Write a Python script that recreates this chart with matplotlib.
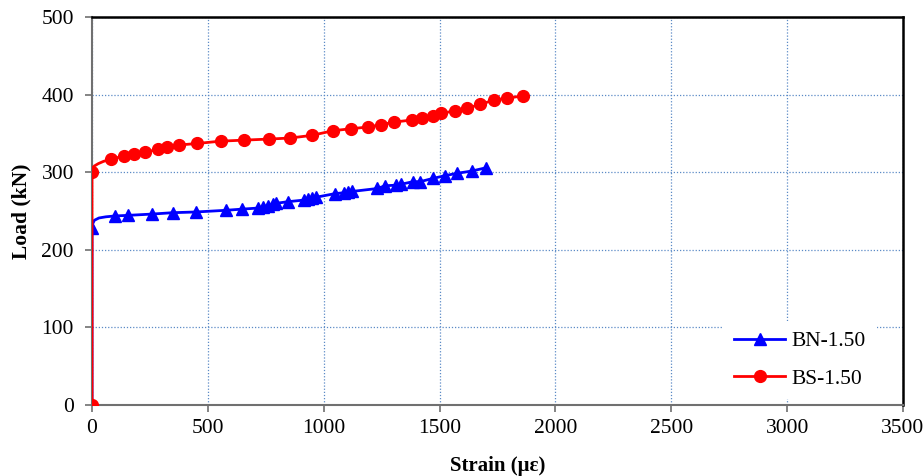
import numpy as np
import matplotlib.pyplot as plt
from matplotlib.lines import Line2D

# --- DATA ---
# BN-1.50 : strain [micro-strain], load [kN]
bn_strain = [0, 0, 99, 157, 258, 348, 447, 578, 648, 718, 738, 758, 780, 795,
             846, 913, 931, 950, 967, 1049, 1087, 1106, 1123, 1232, 1264, 1314,
             1334, 1386, 1416, 1473, 1523, 1574, 1639, 1702]
bn_load = [0, 228, 243.6, 244.4, 246, 247.8, 248.7, 250.9, 252.4, 253.8, 255.5,
           256.6, 258.6, 259.9, 262, 264, 265.2, 266.4, 267.7, 272.4, 273.5,
           274.5, 275.2, 279, 282.5, 283.3, 284.5, 287.8, 287.8, 292.1, 295.5,
           298.5, 301.5, 305.8]
# knee of the curve right after the jump (line only, no markers)
bn_knee_strain = [2, 10, 30, 60]
bn_knee_load = [233, 238, 241, 242.5]

# BS-1.50
bs_strain = [0, 0, 82, 138, 181, 230, 284, 322, 374, 454, 555, 655, 765, 854,
             948, 1041, 1118, 1190, 1246, 1304, 1382, 1425, 1470, 1505, 1567,
             1618, 1676, 1736, 1790, 1861]
bs_load = [0, 300, 316.6, 321, 323.7, 325.6, 329.5, 332.5, 335, 337, 340, 341.3,
           342.7, 344, 347.4, 353.5, 356, 358.2, 361, 364.6, 367.3, 370.2,
           372.8, 375.9, 378.9, 382.3, 387.5, 393, 395.2, 398.5]
bs_knee_strain = [3, 10, 27, 50]
bs_knee_load = [305, 308, 311, 314]

x_ticks = [0, 500, 1000, 1500, 2000, 2500, 3000, 3500]
y_ticks = [0, 100, 200, 300, 400, 500]

plt.rcParams["font.family"] = ["Liberation Serif", "DejaVu Serif"]


def curve(x, y, kx, ky):
    cx = list(x[:2]) + list(kx) + list(x[2:])
    cy = list(y[:2]) + list(ky) + list(y[2:])
    marks = [0, 1] + list(range(2 + len(kx), len(cx)))
    return cx, cy, marks


fig = plt.figure(figsize=(9.23, 4.76), dpi=100)
ax = fig.add_axes([0.0997, 0.1492, 0.8786, 0.8151])

bx, by, bm = curve(bn_strain, bn_load, bn_knee_strain, bn_knee_load)
sx, sy, sm = curve(bs_strain, bs_load, bs_knee_strain, bs_knee_load)

ax.plot(bx, by, color="#0000FF", linewidth=2.0, marker="^", markersize=8,
        markevery=bm, zorder=3)
ax.plot(sx, sy, color="#FF0000", linewidth=2.0, marker="o", markersize=8.5,
        markevery=sm, zorder=4)

ax.set_xlim(0, 3500)
ax.set_ylim(0, 500)
ax.set_xticks(x_ticks)
ax.set_yticks(y_ticks)
ax.grid(True, color="#5b8ac6", linestyle=(0, (1, 1.5)), linewidth=0.9)
ax.set_axisbelow(True)

for side in ["left", "bottom"]:
    ax.spines[side].set_color("#707070")
    ax.spines[side].set_linewidth(1.5)
for side in ["right", "top"]:
    ax.spines[side].set_color("black")
    ax.spines[side].set_linewidth(1.8)

ax.tick_params(axis="both", labelsize=15.5, colors="black", length=5,
               width=1.2, color="#707070")
ax.tick_params(axis="y", pad=8)
ax.tick_params(axis="x", pad=5)

ax.set_xlabel("Strain (\u03bc\u03b5)", fontsize=15, fontweight="bold", labelpad=13)
ax.set_ylabel("Load (kN)", fontsize=15.5, fontweight="bold", labelpad=7)

handles = [
    Line2D([], [], color="#0000FF", linewidth=2.0, marker="^", markersize=8),
    Line2D([], [], color="#FF0000", linewidth=2.0, marker="o", markersize=8.5),
]
leg = ax.legend(handles, ["BN-1.50", "BS-1.50"], loc="center",
                bbox_to_anchor=(0.873, 0.116), fontsize=15.5, frameon=True,
                fancybox=False, edgecolor="none", facecolor="white",
                framealpha=1.0, handlelength=2.4, handletextpad=0.3,
                labelspacing=0.8, borderpad=0.5)

fig.savefig("out.png", dpi=100)
